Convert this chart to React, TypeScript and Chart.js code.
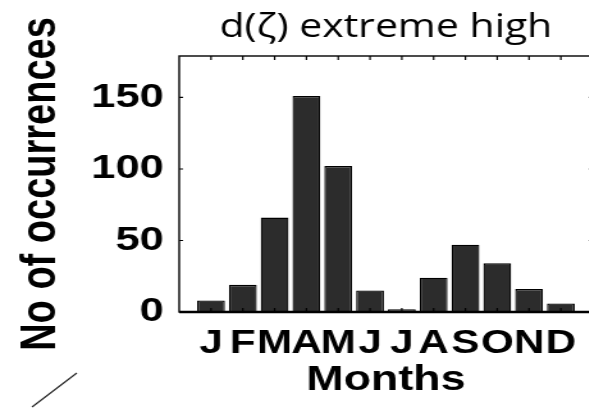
import React, { useEffect, useRef } from "react";
import { Chart, registerables } from "chart.js";

Chart.register(...registerables);

// Monthly counts of extreme-high d(ζ) events
const months = ["J", "F", "M", "A", "M", "J", "J", "A", "S", "O", "N", "D"];
const counts = [8, 19, 66, 151, 102, 15, 2, 24, 47, 34, 16, 6];
const yTickValues = [0, 50, 100, 150];

const chartTitle = "d(ζ) extreme high";
const xTitle = "Months";
const yTitle = "No of occurrences";

// The figure is drawn at a narrower width and stretched horizontally.
const STRETCH = 1.28;
const CANVAS_W = 470;
const CANVAS_H = 408;

const boldFamily = "'Liberation Sans', Arial, Helvetica, sans-serif";

const frameBox = {
  id: "frameBox",
  afterDatasetsDraw(chart: any) {
    const { ctx, chartArea, scales } = chart;
    const { left, right, top, bottom } = chartArea;
    ctx.save();
    ctx.strokeStyle = "#000";
    // inward tick marks on all four sides
    ctx.lineWidth = 1.2;
    ctx.beginPath();
    for (const v of yTickValues) {
      const y = scales.y.getPixelForValue(v);
      ctx.moveTo(left, y);
      ctx.lineTo(left + 3, y);
      ctx.moveTo(right, y);
      ctx.lineTo(right - 3, y);
    }
    months.forEach((_, i) => {
      const x = scales.x.getPixelForValue(i + 1);
      ctx.moveTo(x, top);
      ctx.lineTo(x, top + 4);
      ctx.moveTo(x, bottom);
      ctx.lineTo(x, bottom - 4);
    });
    ctx.stroke();
    // box around the plot
    ctx.lineWidth = 1.4;
    ctx.strokeRect(left, top, right - left, bottom - top);
    ctx.lineWidth = 2.4;
    ctx.beginPath();
    ctx.moveTo(left, bottom);
    ctx.lineTo(right, bottom);
    ctx.stroke();
    ctx.restore();
  },
  afterDraw(chart: any) {
    // short diagonal stroke in the lower-left corner
    const { ctx, height } = chart;
    ctx.save();
    ctx.strokeStyle = "#222";
    ctx.lineWidth = 1.1;
    ctx.beginPath();
    ctx.moveTo(25, height - 1);
    ctx.lineTo(60, height - 35);
    ctx.stroke();
    ctx.restore();
  },
};

export default function App() {
  const canvasRef = useRef<HTMLCanvasElement | null>(null);

  useEffect(() => {
    const canvas = canvasRef.current;
    if (!canvas) return;
    const chart = new Chart(canvas, {
      type: "bar",
      data: {
        datasets: [
          {
            data: counts.map((c, i) => ({ x: i + 1, y: c })),
            backgroundColor: "#2c2c2c",
            borderColor: "#000",
            borderWidth: 1.3,
            categoryPercentage: 1,
            barPercentage: 0.875,
          },
        ],
      },
      options: {
        responsive: false,
        animation: false,
        layout: { padding: { left: 0, right: 7, top: 0, bottom: 0 } },
        plugins: {
          legend: { display: false },
          tooltip: { enabled: false },
          title: {
            display: true,
            fullSize: false,
            text: chartTitle,
            color: "#000",
            font: { family: "'Open Sans', 'Noto Sans', sans-serif", size: 32, weight: "normal", lineHeight: 1 },
            padding: { top: 12, bottom: 12 },
          },
        },
        scales: {
          x: {
            type: "linear",
            min: 0,
            max: 13,
            offset: false,
            afterBuildTicks: (scale: any) => {
              scale.ticks = months.map((_, i) => ({ value: i + 1 }));
            },
            afterFit: (scale: any) => {
              scale.height = 96;
            },
            grid: { display: false, drawTicks: false, offset: false },
            border: { display: false },
            ticks: {
              autoSkip: false,
              maxRotation: 0,
              minRotation: 0,
              padding: 12,
              color: "#000",
              font: { family: boldFamily, size: 33, weight: "bold" },
              callback: (v: any) => months[Number(v) - 1] ?? "",
            },
            title: {
              display: true,
              text: xTitle,
              color: "#000",
              font: { family: boldFamily, size: 35, weight: "bold", lineHeight: 1.2 },
              padding: { top: 0, bottom: 7 },
            },
          },
          y: {
            type: "linear",
            min: 0,
            max: 179,
            afterBuildTicks: (scale: any) => {
              scale.ticks = yTickValues.map((v) => ({ value: v }));
            },
            afterFit: (scale: any) => {
              scale.width = 140;
            },
            grid: { display: false, drawTicks: false },
            border: { display: false },
            ticks: {
              padding: 12,
              color: "#000",
              font: { family: boldFamily, size: 34, weight: "bold" },
            },
            title: {
              display: true,
              text: yTitle,
              color: "#000",
              font: { family: boldFamily, size: 38, weight: "bold", lineHeight: 1.2 },
              padding: { top: 10, bottom: 0 },
            },
          },
        },
      },
      plugins: [frameBox],
    } as any);
    return () => chart.destroy();
  }, []);

  return (
    <div
      style={{
        position: "fixed",
        left: 0,
        top: 0,
        width: 589,
        height: 408,
        overflow: "hidden",
        background: "#fff",
      }}
    >
      <div
        style={{
          width: CANVAS_W,
          height: CANVAS_H,
          transform: `scaleX(${STRETCH})`,
          transformOrigin: "0 0",
        }}
      >
        <canvas ref={canvasRef} width={CANVAS_W} height={CANVAS_H} />
      </div>
    </div>
  );
}
